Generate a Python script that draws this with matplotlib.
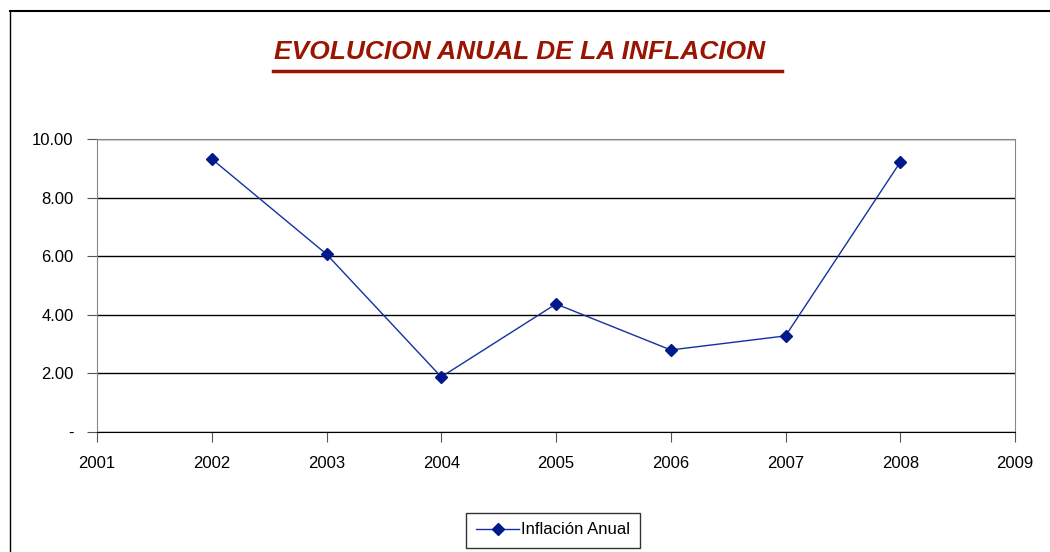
import matplotlib.pyplot as plt
from matplotlib.lines import Line2D

years = [2002, 2003, 2004, 2005, 2006, 2007, 2008]
inflacion = [9.32, 6.07, 1.88, 4.37, 2.80, 3.28, 9.21]
year_ticks = list(range(2001, 2010))
y_ticks = [0, 2, 4, 6, 8, 10]
y_labels = ['-', '2.00', '4.00', '6.00', '8.00', '10.00']

plt.rcParams['font.family'] = ['Liberation Sans', 'DejaVu Sans']

fig = plt.figure(figsize=(10.5, 5.52), dpi=100)
ax = fig.add_axes([97/1050, 1-432/552, (1015-97)/1050, (432-139)/552])

ax.plot(years, inflacion, color='#1530a0', lw=1.0, marker='D', markersize=6,
        markerfacecolor='#001a8c', markeredgecolor='#001a8c', label='Inflación Anual')

ax.set_xlim(2001, 2009)
ax.set_ylim(0, 10)
ax.set_xticks(year_ticks)
ax.set_xticklabels([str(y) for y in year_ticks])
ax.set_yticks(y_ticks)
ax.set_yticklabels(y_labels)
ax.tick_params(axis='both', labelsize=12, direction='out', length=7, color='#555555', pad=10)
ax.grid(axis='y', color='black', lw=1.0)
ax.set_axisbelow(True)
for s in ['left', 'top', 'right']:
    ax.spines[s].set_color('#888888')
ax.spines['bottom'].set_color('black')

leg = ax.legend(loc='center', bbox_to_anchor=(553/1050, 1-530/552), bbox_transform=fig.transFigure,
                fontsize=12, frameon=True, fancybox=False, edgecolor='black',
                handlelength=2.6, handletextpad=0.1, borderpad=0.6, borderaxespad=0)
leg.get_frame().set_linewidth(1.0)

fig.text(520/1050, 1-52/552, 'EVOLUCION ANUAL DE LA INFLACION', ha='center', va='center',
         fontsize=19, fontweight='bold', fontstyle='italic', color='#9a1402')
# underline of the title
fig.add_artist(Line2D([273/1050, 782/1050], [1-71/552, 1-71/552], color='#9a1402', lw=2.5))

# chart frame border
fig.add_artist(Line2D([10/1050, 1], [1-11/552, 1-11/552], color='black', lw=1.5))
fig.add_artist(Line2D([10/1050, 10/1050], [1-11/552, 0], color='black', lw=1.0))

fig.savefig('out.png', dpi=100)
